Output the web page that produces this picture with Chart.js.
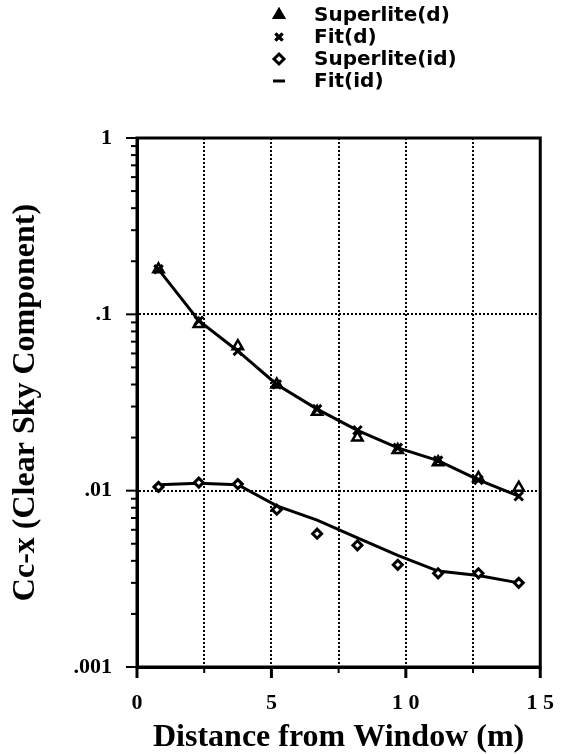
<!DOCTYPE html>
<html>
<head>
<meta charset="utf-8">
<script src="https://cdn.jsdelivr.net/npm/chart.js@4.4.1/dist/chart.umd.min.js"></script>
<style>
  html, body { margin: 0; padding: 0; background: #fff; }
  #wrap { width: 577px; height: 754px; position: relative; }
</style>
</head>
<body>
<div id="wrap"><canvas id="myChart"></canvas></div>
<script>
// distances from window (m), same for every series
const distances = [0.8, 2.3, 3.75, 5.2, 6.7, 8.2, 9.7, 11.2, 12.7, 14.2];

// values
const superliteD  = [0.18, 0.088, 0.066, 0.040, 0.028, 0.020, 0.017, 0.0145, 0.0118, 0.0104];
const fitD        = [0.18, 0.092, 0.062, 0.040, 0.029, 0.022, 0.0175, 0.0148, 0.0115, 0.0093];
const superliteID = [0.0105, 0.0111, 0.0109, 0.0078, 0.0057, 0.0049, 0.0038, 0.0034, 0.0034, 0.0030];
const fitID       = [0.0108, 0.0110, 0.0108, 0.0082, 0.0068, 0.0054, 0.0043, 0.0035, 0.0033, 0.0030];

const seriesNames = ['Superlite(d)', 'Fit(d)', 'Superlite(id)', 'Fit(id)'];

// axis ticks
const yDecades = [0.001, 0.01, 0.1, 1];
const yDecadeText = ['.001', '.01', '.1', '1'];
const yGridAt = [0.01, 0.1];
const xMajorTicks = [0, 5, 10, 15];
const xTickText = ['0', '5', '1 0', '1 5'];

const pts = vals => distances.map((d, i) => ({ x: d, y: vals[i] }));

// every 1..9 step inside each decade, for the minor ticks
let yAllTicks = [];
yDecades.forEach(d => {
    if (d === 1) { yAllTicks.push(1); return; }
    for (let m = 1; m < 10; m++) yAllTicks.push(+(d * m).toPrecision(3));
});

const serif = '"Liberation Serif", "Times New Roman", serif';
const chicago = '"DejaVu Sans", sans-serif';

// frame, tick marks and the stacked legend in the top right
const decorPlugin = {
    id: 'decor',
    afterDraw(chart) {
        const ctx = chart.ctx;
        const a = chart.chartArea;
        const xs = chart.scales.x, ys = chart.scales.y;
        ctx.save();
        ctx.strokeStyle = '#000';
        ctx.lineWidth = 3;
        ctx.strokeRect(a.left, a.top, a.right - a.left, a.bottom - a.top);

        // y ticks
        ctx.lineWidth = 2;
        yAllTicks.forEach(v => {
            const py = ys.getPixelForValue(v);
            const major = yDecades.includes(v);
            ctx.beginPath();
            ctx.moveTo(a.left - (major ? 11 : 6), py);
            ctx.lineTo(a.left, py);
            ctx.stroke();
        });
        // x ticks
        for (let v = 0; v <= 15; v += 2.5) {
            const px = xs.getPixelForValue(v);
            const major = xMajorTicks.includes(v);
            ctx.lineWidth = major ? 3 : 2;
            ctx.beginPath();
            ctx.moveTo(px, a.bottom);
            ctx.lineTo(px, a.bottom + (major ? 11 : 6));
            ctx.stroke();
        }

        // legend
        const lx = 279, tx = 314, top = 15, step = 22;
        ctx.font = 'bold 20px ' + chicago;
        ctx.textBaseline = 'middle';
        chart.data.datasets.forEach((ds, i) => {
            const y = top + i * step;
            ctx.strokeStyle = '#000';
            ctx.fillStyle = '#000';
            ctx.lineWidth = 3;
            if (ds.pointStyle === 'rectRot') {
                ctx.beginPath();
                ctx.moveTo(lx, y - 5); ctx.lineTo(lx + 5, y); ctx.lineTo(lx, y + 5); ctx.lineTo(lx - 5, y);
                ctx.closePath();
                ctx.stroke();
            } else if (ds.pointRadius > 0) {
                Chart.helpers.drawPoint(ctx, { pointStyle: ds.pointStyle, radius: 5, borderWidth: 3 }, lx, y);
                ctx.stroke();
            } else {
                ctx.beginPath();
                ctx.moveTo(lx - 6, y); ctx.lineTo(lx + 6, y);
                ctx.stroke();
            }
            ctx.fillText(ds.label, tx, y + 1);
        });
        ctx.restore();
    }
};

const ctx = document.getElementById('myChart').getContext('2d');
const myChart = new Chart(ctx, {
    type: 'scatter',
    data: {
        datasets: [
            {
                label: seriesNames[0],
                data: pts(superliteD),
                showLine: false,
                pointStyle: 'triangle',
                pointRadius: 6,
                borderColor: '#000',
                backgroundColor: 'rgba(255,255,255,0)',
                pointBorderWidth: 2.5
            },
            {
                label: seriesNames[1],
                data: pts(fitD),
                showLine: true,
                pointStyle: 'crossRot',
                pointRadius: 6,
                borderColor: '#000',
                backgroundColor: '#000',
                borderWidth: 3,
                pointBorderWidth: 3,
                tension: 0
            },
            {
                label: seriesNames[2],
                data: pts(superliteID),
                showLine: false,
                pointStyle: 'rectRot',
                pointRadius: 4.5,
                borderColor: '#000',
                backgroundColor: '#fff',
                pointBorderWidth: 3
            },
            {
                label: seriesNames[3],
                data: pts(fitID),
                showLine: true,
                pointRadius: 0,
                borderColor: '#000',
                borderWidth: 3,
                tension: 0
            }
        ]
    },
    options: {
        responsive: true,
        maintainAspectRatio: false,
        animation: false,
        layout: { padding: { top: 138, right: 17, left: 0, bottom: 0 } },
        plugins: {
            legend: { display: false },
            tooltip: { enabled: false }
        },
        scales: {
            x: {
                type: 'linear',
                min: 0,
                max: 15,
                afterFit: s => { s.height = 87; },
                ticks: {
                    stepSize: 2.5,
                    padding: 23,
                    color: '#000',
                    font: { family: serif, size: 22, weight: 'bold' },
                    callback: v => {
                        const i = xMajorTicks.indexOf(v);
                        return i >= 0 ? xTickText[i] : '';
                    }
                },
                grid: {
                    drawTicks: false,
                    color: '#000',
                    lineWidth: 2
                },
                border: { display: true, color: '#000', width: 3, dash: [2, 2] },
                title: {
                    display: true,
                    text: 'Distance from Window (m)',
                    color: '#000',
                    font: { family: serif, size: 32, weight: 'bold', lineHeight: 1 },
                    padding: { top: 0, bottom: 0 }
                }
            },
            y: {
                type: 'logarithmic',
                min: 0.001,
                max: 1,
                afterFit: s => { s.width = 137; },
                afterBuildTicks: s => { s.ticks = yAllTicks.map(v => ({ value: v })); },
                ticks: {
                    autoSkip: false,
                    padding: 25,
                    color: '#000',
                    font: { family: serif, size: 22, weight: 'bold' },
                    callback: v => {
                        const i = yDecades.indexOf(v);
                        return i >= 0 ? yDecadeText[i] : '';
                    }
                },
                grid: {
                    drawTicks: false,
                    color: c => yGridAt.includes(c.tick.value) ? '#000' : 'rgba(0,0,0,0)',
                    lineWidth: 2
                },
                border: { display: true, color: '#000', width: 3, dash: [2, 2] },
                title: {
                    display: true,
                    text: 'Cc-x (Clear Sky Component)',
                    color: '#000',
                    font: { family: serif, size: 32, weight: 'bold', lineHeight: 1 },
                    padding: { top: 10, bottom: 0 }
                }
            }
        }
    },
    plugins: [decorPlugin]
});
</script>
</body>
</html>
